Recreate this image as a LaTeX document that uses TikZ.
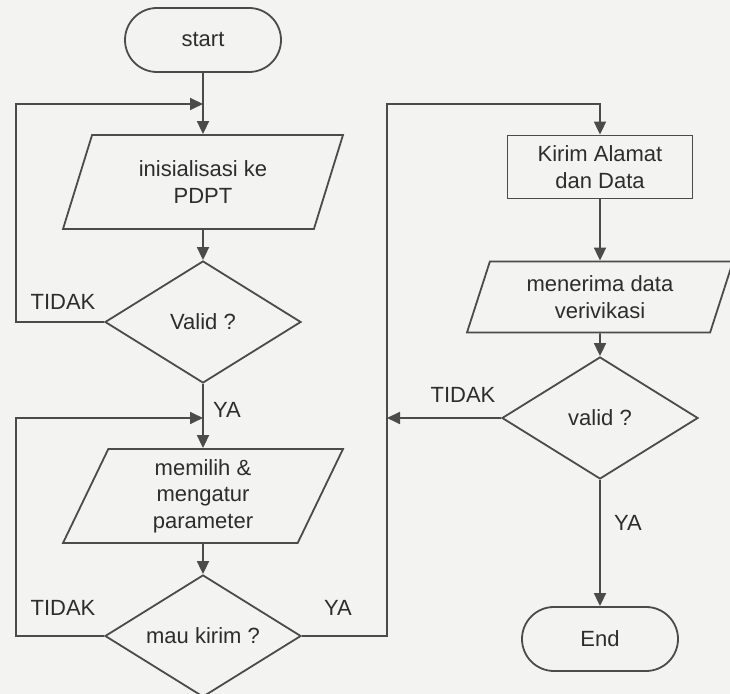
\documentclass[tikz,border=0pt]{standalone}
\usepackage{fontspec}
\setmainfont{Liberation Sans}
\usetikzlibrary{shapes.geometric,arrows.meta}

\begin{document}
\begin{tikzpicture}[x=0.5pt,y=-0.5pt,
    line width=0.9pt,
    font=\fontsize{11}{13.3}\selectfont,
    terminal/.style={draw=lineGray, text=textGray, rounded corners=16pt, minimum width=78pt, minimum height=32pt},
    iobox/.style={draw=lineGray, text=textGray, align=center, shape=trapezium, trapezium left angle=62.5, trapezium right angle=117.5, trapezium stretches body, minimum width=140pt, minimum height=47pt},
    decision/.style={draw=lineGray, text=textGray, shape=diamond, aspect=1.6, inner sep=0pt, minimum width=98pt, minimum height=61pt},
    process/.style={draw=lineGray, text=textGray, align=center, minimum width=92.5pt, minimum height=31.5pt},
    tag/.style={text=textGray},
    flowline/.style={draw=lineGray, -{Triangle[length=6.5pt,width=6pt]}}]
    % Define colors
    \definecolor{lineGray}{RGB}{75, 75, 75}
    \definecolor{textGray}{RGB}{45, 45, 45}
    \definecolor{paper}{RGB}{243, 243, 241}

    % Page
    \useasboundingbox (0,0) rectangle (730,694);
    \fill[paper] (0,0) rectangle (730,694);

    % Left column
    \node[terminal] (start) at (203,40) {start};
    \node[iobox] (init) at (203,182) {inisialisasi ke\\PDPT};
    \node[decision] (valid1) at (203,322) {Valid ?};
    \node[iobox] (pilih) at (203,496) {memilih \&\\mengatur\\parameter};
    \node[decision] (kirim) at (203,636) {mau kirim ?};

    % Right column
    \node[process] (alamat) at (600,167) {Kirim Alamat\\dan Data};
    \node[iobox, trapezium left angle=67.8, trapezium right angle=112.2, minimum width=133pt, minimum height=35.5pt] (terima) at (600,297) {menerima data\\verivikasi};
    \node[decision] (valid2) at (600,418) {valid ?};
    \node[terminal] (end) at (600,639) {End};

    % Loop joints and rails
    \coordinate (loopA) at (203,104);
    \coordinate (loopB) at (203,418);
    \coordinate (leftrail) at (16,0);
    \coordinate (midrail) at (387,0);

    % Connectors
    \draw[flowline] (start) -- (init);
    \draw[flowline] (init) -- (valid1);
    \draw[flowline] (valid1) -- (pilih);
    \draw[flowline] (pilih) -- (kirim);
    \draw[flowline] (valid1.west) -| (leftrail |- loopA) -- (loopA);
    \draw[flowline] (kirim.west) -| (leftrail |- loopB) -- (loopB);
    \draw[flowline] (kirim.east) -| (midrail |- loopA) -| (alamat);
    \draw[flowline] (alamat) -- (terima);
    \draw[flowline] (terima) -- (valid2);
    \draw[flowline] (valid2.west) -- (valid2.west -| midrail);
    \draw[flowline] (valid2) -- (end);

    % Branch labels
    \node[tag] (tidak1) at (63,302) {TIDAK};
    \node[tag] (ya1) at (227,410) {YA};
    \node[tag] (tidak2) at (63,608) {TIDAK};
    \node[tag] (ya2) at (338,608) {YA};
    \node[tag] (tidak3) at (463,395) {TIDAK};
    \node[tag] (ya3) at (628,523) {YA};
\end{tikzpicture}
\end{document}
